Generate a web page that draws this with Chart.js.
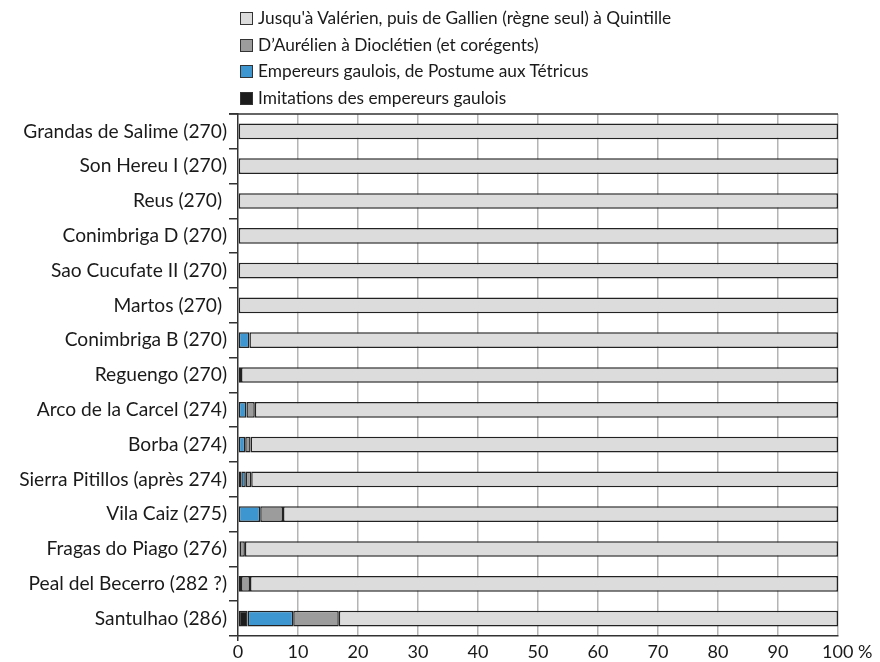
<!DOCTYPE html>
<html>
<head>
<meta charset="utf-8">
<script src="https://cdn.jsdelivr.net/npm/chart.js@4"></script>
<style>
	body { margin: 0; background: #fff; }
	#wrap { position: relative; width: 880px; height: 662px; }
	#legend { position: absolute; left: 240px; top: 5px; font-family: Lato, sans-serif; font-size: 17.3px; color: #1a1a1a; }
	#legend div { height: 26.5px; line-height: 26.5px; white-space: nowrap; }
	#legend span.box { display: inline-block; width: 11px; height: 11px; border: 1px solid #333; margin-right: 5px; vertical-align: -1px; }
</style>
</head>
<body>
<div id="wrap">
	<canvas id="chart" width="880" height="662"></canvas>
	<div id="legend"></div>
</div>
<script>
const sites = [
	'Grandas de Salime (270)', 'Son Hereu I (270)', 'Reus (270) ', 'Conimbriga D (270)',
	'Sao Cucufate II (270)', 'Martos (270) ', 'Conimbriga B (270)', 'Reguengo (270)',
	'Arco de la Carcel (274)', 'Borba (274)', 'Sierra Pitillos (après 274)', 'Vila Caiz (275)',
	'Fragas do Piago (276)', 'Peal del Becerro (282 ?)', 'Santulhao (286)'
];

// percentages per site, null where the group is absent
const imitations = [null, null, null, null, null, null, null, null, null, null, 0.55, null, 0.25, null, 1.6];
const gaulois = [null, null, null, null, null, null, 1.9, 0.5, 1.4, 1.2, 0.75, 3.7, null, 0.5, 7.6];
const aurelien = [null, null, null, null, null, null, null, null, 1.4, 0.9, 0.9, 3.8, 0.9, 1.5, 7.6];
const valerien = [100, 100, 100, 100, 100, 100, 98.1, 99.5, 97.2, 97.9, 97.8, 92.5, 98.85, 98.0, 83.2];

const xTicks = [0, 10, 20, 30, 40, 50, 60, 70, 80, 90, 100];

const edge = '#222';

const datasets = [
	{ label: 'Imitations des empereurs gaulois', data: imitations, backgroundColor: '#1c1c1c' },
	{ label: 'Empereurs gaulois, de Postume aux Tétricus', data: gaulois, backgroundColor: '#3d96d0' },
	{ label: "D’Aurélien à Dioclétien (et corégents)", data: aurelien, backgroundColor: '#9c9c9c' },
	{ label: "Jusqu'à Valérien, puis de Gallien (règne seul) à Quintille", data: valerien, backgroundColor: '#dcdcdc' }
].map((d) => Object.assign(d, {
	borderColor: edge,
	borderWidth: 1.5,
	borderSkipped: false,
	categoryPercentage: 0.45,
	barPercentage: 1
}));

// legend lists the groups from the last stacked one to the first
const legend = document.getElementById('legend');
datasets.slice().reverse().forEach((d) => {
	const row = document.createElement('div');
	row.innerHTML = `<span class="box" style="background:${d.backgroundColor}"></span>${d.label}`;
	legend.append(row);
});

const frameTop = {
	id: 'frameTop',
	afterDraw(chart) {
		const { ctx, chartArea } = chart;
		ctx.save();
		ctx.strokeStyle = '#333';
		ctx.lineWidth = 1.5;
		ctx.beginPath();
		ctx.moveTo(chartArea.left - 9, chartArea.top);
		ctx.lineTo(chartArea.right, chartArea.top);
		ctx.stroke();
		ctx.restore();
	}
};

const isZero = (c) => c.tick && c.tick.value === 0;

new Chart(document.getElementById('chart'), {
	type: 'bar',
	data: { labels: sites, datasets: datasets },
	plugins: [frameTop],
	options: {
		indexAxis: 'y',
		responsive: false,
		animation: false,
		layout: { padding: { top: 114, right: 42, left: 0, bottom: 0 } },
		plugins: { legend: { display: false }, tooltip: { enabled: false } },
		scales: {
			x: {
				stacked: true,
				min: 0,
				max: 100,
				afterBuildTicks(scale) { scale.ticks = xTicks.map((v) => ({ value: v })); },
				afterFit(scale) { scale.height = 26; },
				border: { color: '#333', width: 1.5 },
				grid: {
					color: (c) => (isZero(c) ? 'rgba(0,0,0,0)' : '#b4b4b4'),
					tickColor: (c) => (isZero(c) ? '#333' : 'rgba(0,0,0,0)'),
					lineWidth: 1.5,
					tickLength: 5
				},
				ticks: {
					padding: 0,
					maxRotation: 0,
					autoSkip: false,
					color: '#1a1a1a',
					font: { family: 'Lato', size: 18 },
					callback: (v) => (v === 100 ? '    100 %' : v)
				}
			},
			y: {
				stacked: true,
				afterFit(scale) { scale.width = 238; },
				border: { color: '#333', width: 1.5 },
				grid: { offset: true, drawOnChartArea: false, color: '#333', lineWidth: 1.5, tickLength: 9 },
				ticks: {
					padding: 2,
					color: '#1a1a1a',
					font: { family: 'Lato', size: 19.2 }
				}
			}
		}
	}
});
</script>
</body>
</html>
